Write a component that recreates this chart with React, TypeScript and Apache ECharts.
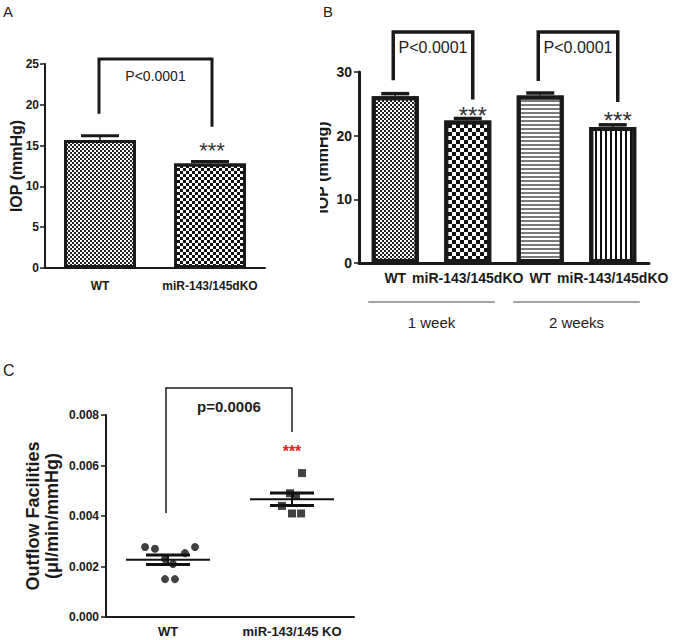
import React, { useEffect, useRef } from "react";
import * as echarts from "echarts";

// ---------- Panel A ----------
const aCategories = ["WT", "miR-143/145dKO"];
const aValues = [15.7, 12.8];
const aErrors = [0.5, 0.25];
const aYTicks = { min: 0, max: 25, step: 5 };
// [fromIndex, toIndex, top, leftLegEnd, rightLegEnd, labelValue]
const aBrackets = [[0, 1, 25.6, 18.9, 17.3, 23.5]];
const aBracketLabels = ["P<0.0001"];
const aStars = [[1, 15.0]];

// ---------- Panel B ----------
const bCategories = ["WT", "miR-143/145dKO", "WT", "miR-143/145dKO"];
const bValues = [26.2, 22.4, 26.3, 21.35];
const bErrors = [0.4, 0.3, 0.4, 0.35];
const bYTicks = { min: 0, max: 30, step: 10 };
const bGroups = ["1 week", "2 weeks"];
const bGroupSpans = [[0, 1], [2, 3]];
const bBrackets = [
  [0, 1, 36.3, 28.7, 25.7, 33.8],
  [2, 3, 36.3, 28.6, 25.3, 33.8],
];
const bBracketLabels = ["P<0.0001", "P<0.0001"];
const bStars = [[1, 24.0], [3, 23.2]];

// ---------- Panel C ----------
const cCategories = ["WT", "miR-143/145 KO"];
const cWT = [0.00277, 0.0027, 0.0023, 0.0021, 0.00253, 0.00277, 0.0015, 0.0015];
const cWTJitter = [-0.185, -0.105, -0.024, 0.04, 0.137, 0.218, -0.024, 0.056];
const cKO = [0.0057, 0.0049, 0.0048, 0.0044, 0.0041, 0.0041];
const cKOJitter = [0.081, -0.016, 0.032, -0.081, 0.0, 0.073];
const cYTicks = { min: 0, max: 0.008, step: 0.002 };
const cBrackets = [[0.5, 1.5, 0.00907, 0.00412, 0.00733, 0.00832]];
const cBracketLabels = ["p=0.0006"];
const cStars = [[1.5, 0.00669]];

const FONT = "'Liberation Sans', Arial, Helvetica, sans-serif";
const INK = "#1a1a1a";

function meanSem(arr: number[]) {
  const n = arr.length;
  const m = arr.reduce((s, v) => s + v, 0) / n;
  const sd = Math.sqrt(arr.reduce((s, v) => s + (v - m) * (v - m), 0) / (n - 1));
  return [m, sd / Math.sqrt(n)];
}

const checker = (c: number, color: string) => ({
  symbol: "rect",
  symbolSize: 1,
  symbolKeepAspect: false,
  dashArrayX: [[c, c], [0, c, c, 0]],
  dashArrayY: [c, 0],
  color,
  backgroundColor: "#fff",
});
const hStripes = {
  symbol: "rect",
  symbolSize: 1,
  symbolKeepAspect: false,
  dashArrayX: [6, 0],
  dashArrayY: [2, 2],
  color: "#7a7a7a",
  backgroundColor: "#fff",
};
const vStripes = {
  symbol: "rect",
  symbolSize: 1,
  symbolKeepAspect: false,
  dashArrayX: [2, 3],
  dashArrayY: [6, 0],
  color: "#111",
  backgroundColor: "#fff",
};
const aDecals = [checker(2, "#222"), checker(3, "#111")];
const bDecals = [checker(2, "#222"), checker(4, "#111"), hStripes, vStripes];

function errorRender(capHalf: number, capWidth: number) {
  return (params: any, api: any) => {
    const x = api.value(0);
    const v = api.value(1);
    const e = api.value(2);
    const p0 = api.coord([x, v]);
    const p1 = api.coord([x, v + e]);
    return {
      type: "group",
      children: [
        { type: "line", shape: { x1: p0[0], y1: p0[1], x2: p1[0], y2: p1[1] }, style: { stroke: INK, lineWidth: 1.5 } },
        { type: "line", shape: { x1: p1[0] - capHalf, y1: p1[1], x2: p1[0] + capHalf, y2: p1[1] }, style: { stroke: INK, lineWidth: capWidth } },
      ],
    };
  };
}

function bracketRender(labels: string[], lineWidth: number, font: string, rightNudge: number, leftNudge: number) {
  return (params: any, api: any) => {
    const x1 = api.value(0), x2 = api.value(1), top = api.value(2);
    const l = api.value(3), r = api.value(4), ty = api.value(5);
    const pTL = api.coord([x1, top]);
    const pL = api.coord([x1, l]);
    const pTR = api.coord([x2, top]);
    const pR = api.coord([x2, r]);
    const pText = api.coord([x1, ty]);
    const xl = pTL[0] + leftNudge;
    const xr = pTR[0] + rightNudge;
    return {
      type: "group",
      children: [
        {
          type: "polyline",
          shape: { points: [[xl, pL[1]], [xl, pTL[1]], [xr, pTR[1]], [xr, pR[1]]] },
          style: { stroke: INK, lineWidth, fill: "none", lineJoin: "miter" },
        },
        {
          type: "text",
          x: (xl + xr) / 2,
          y: pText[1],
          style: { text: labels[params.dataIndex], font, fill: "#222", align: "center", verticalAlign: "middle" },
        },
      ],
    };
  };
}

function starRender(font: string, fontSize: number, color: string, nudge: number) {
  return (params: any, api: any) => {
    const p = api.coord([api.value(0), api.value(1)]);
    return {
      type: "text",
      x: p[0] + nudge,
      y: p[1] + fontSize * 0.22,
      style: { text: "***", font, fill: color, align: "center", verticalAlign: "middle" },
    };
  };
}

function groupRender(halfW: number) {
  return (params: any, api: any) => {
    const a = api.coord([api.value(0), 0]);
    const b = api.coord([api.value(1), 0]);
    const y = a[1] + 39;
    return {
      type: "group",
      children: [
        { type: "line", shape: { x1: a[0] - halfW, y1: y, x2: b[0] + halfW, y2: y }, style: { stroke: "#444", lineWidth: 1 } },
        {
          type: "text",
          x: (a[0] + b[0]) / 2,
          y: y + 20,
          style: { text: bGroups[params.dataIndex], font: `15px ${FONT}`, fill: "#222", align: "center", verticalAlign: "middle" },
        },
      ],
    };
  };
}

function meanSemRender(params: any, api: any) {
  const x = api.value(0), m = api.value(1), s = api.value(2);
  const pm = api.coord([x, m]);
  const pu = api.coord([x, m + s]);
  const pd = api.coord([x, m - s]);
  const line = (x1: number, y1: number, x2: number, y2: number, w: number) => ({
    type: "line",
    shape: { x1, y1, x2, y2 },
    style: { stroke: "#111", lineWidth: w },
  });
  return {
    type: "group",
    children: [
      line(pm[0] - 42, pm[1], pm[0] + 42, pm[1], 2),
      line(pu[0] - 22, pu[1], pu[0] + 22, pu[1], 3),
      line(pd[0] - 22, pd[1], pd[0] + 22, pd[1], 3),
      line(pu[0], pu[1], pd[0], pd[1], 2),
    ],
  };
}

const valueAxis = (gridIndex: number, t: any, lw: number, fs: number, margin: number, name: string, nameGap: number, nameFs: number, formatter?: any, moveOverlap = true) => ({
  gridIndex,
  type: "value",
  min: t.min,
  max: t.max,
  interval: t.step,
  splitLine: { show: false },
  axisLine: { show: true, lineStyle: { color: INK, width: lw } },
  axisTick: { show: true, length: 5, lineStyle: { color: INK, width: 1.5 } },
  axisLabel: { fontFamily: FONT, fontWeight: "bold", fontSize: fs, color: INK, margin, formatter },
  name,
  nameLocation: "middle",
  nameRotate: 90,
  nameGap,
  nameMoveOverlap: moveOverlap,
  nameTextStyle: { fontFamily: FONT, fontWeight: "bold", fontSize: nameFs, color: INK, lineHeight: 19 },
});

const catAxis = (gridIndex: number, data: string[], lw: number, fs: number, margin: number) => ({
  gridIndex,
  type: "category",
  data,
  axisLine: { lineStyle: { color: INK, width: lw } },
  axisTick: { alignWithLabel: true, length: 4, lineStyle: { color: INK, width: 1.5 } },
  axisLabel: { interval: 0, hideOverlap: false, fontFamily: FONT, fontWeight: "bold", fontSize: fs, color: INK, margin },
});

export default function App() {
  const ref = useRef<HTMLDivElement>(null);
  useEffect(() => {
    if (!ref.current) return;
    const chart = echarts.init(ref.current, undefined, { renderer: "svg" });
    const [wtMean, wtSem] = meanSem(cWT);
    const [koMean, koSem] = meanSem(cKO);
    const option: any = {
      animation: false,
      backgroundColor: "#fff",
      grid: [
        { left: 45, top: 64, width: 220, height: 204 },
        { left: 359, top: 72, width: 290, height: 191 },
        { left: 106, top: 415, width: 248, height: 202 },
      ],
      xAxis: [
        catAxis(0, aCategories, 2, 12, 12),
        catAxis(1, bCategories, 3, 14, 8),
        catAxis(2, cCategories, 2, 13, 8),
        { gridIndex: 2, type: "value", min: 0, max: 2, show: false },
      ],
      yAxis: [
        valueAxis(0, aYTicks, 2, 12, 6, "IOP (mmHg)", 19, 16, undefined, false),
        valueAxis(1, bYTicks, 3, 14, 7, "IOP (mmHg)", 27, 16),
        valueAxis(2, cYTicks, 2, 12, 7, "Outflow Facilities\n(μl/min/mmHg)", 45, 18, (v: number) => v.toFixed(3)),
      ],
      graphic: [
        { type: "rect", z: 100, shape: { x: 290, y: 90, width: 30, height: 170 }, style: { fill: "#fff" } },
        { type: "text", x: 3, y: 4, style: { text: "A", font: `15px ${FONT}`, fill: "#222" } },
        { type: "text", x: 323, y: 4, style: { text: "B", font: `15px ${FONT}`, fill: "#222" } },
        { type: "text", x: 3, y: 362, style: { text: "C", font: `16px ${FONT}`, fill: "#222" } },
      ],
      series: [
        {
          type: "bar",
          xAxisIndex: 0,
          yAxisIndex: 0,
          barWidth: 72,
          data: aValues.map((v, i) => ({ value: v, itemStyle: { color: "#fff", borderColor: INK, borderWidth: 3, decal: aDecals[i] } })),
        },
        {
          type: "custom",
          xAxisIndex: 0,
          yAxisIndex: 0,
          z: 5,
          encode: { x: 0, y: 1 },
          renderItem: errorRender(19, 3),
          data: aValues.map((v, i) => [i, v, aErrors[i]]),
        },
        {
          type: "custom",
          xAxisIndex: 0,
          yAxisIndex: 0,
          clip: false,
          encode: { x: 0, y: 2 },
          renderItem: bracketRender(aBracketLabels, 3, `14px ${FONT}`, 2, -1),
          data: aBrackets,
        },
        {
          type: "custom",
          xAxisIndex: 0,
          yAxisIndex: 0,
          encode: { x: 0, y: 1 },
          renderItem: starRender(`22px ${FONT}`, 22, "#333", 2),
          data: aStars,
        },
        {
          type: "bar",
          xAxisIndex: 1,
          yAxisIndex: 1,
          barWidth: 47,
          data: bValues.map((v, i) => ({ value: v, itemStyle: { color: "#fff", borderColor: INK, borderWidth: 4, decal: bDecals[i] } })),
        },
        {
          type: "custom",
          xAxisIndex: 1,
          yAxisIndex: 1,
          z: 5,
          encode: { x: 0, y: 1 },
          renderItem: errorRender(14, 3.5),
          data: bValues.map((v, i) => [i, v, bErrors[i]]),
        },
        {
          type: "custom",
          xAxisIndex: 1,
          yAxisIndex: 1,
          clip: false,
          encode: { x: 0, y: 2 },
          renderItem: bracketRender(bBracketLabels, 3.5, `16px ${FONT}`, 5, -2),
          data: bBrackets,
        },
        {
          type: "custom",
          xAxisIndex: 1,
          yAxisIndex: 1,
          encode: { x: 0, y: 1 },
          renderItem: starRender(`24px ${FONT}`, 24, "#333", 5),
          data: bStars,
        },
        {
          type: "custom",
          xAxisIndex: 1,
          yAxisIndex: 1,
          clip: false,
          encode: { x: 0, y: 1 },
          renderItem: groupRender(27),
          data: bGroupSpans,
        },
        {
          type: "scatter",
          xAxisIndex: 3,
          yAxisIndex: 2,
          symbol: "circle",
          symbolSize: 8,
          itemStyle: { color: "#111" },
          data: cWT.map((v, i) => [0.5 + cWTJitter[i], v]),
        },
        {
          type: "scatter",
          xAxisIndex: 3,
          yAxisIndex: 2,
          symbol: "rect",
          symbolSize: 8,
          itemStyle: { color: "#111" },
          data: cKO.map((v, i) => [1.5 + cKOJitter[i], v]),
        },
        {
          type: "custom",
          xAxisIndex: 3,
          yAxisIndex: 2,
          z: 5,
          encode: { x: 0, y: 1 },
          renderItem: meanSemRender,
          data: [[0.5, wtMean, wtSem], [1.5, koMean, koSem]],
        },
        {
          type: "custom",
          xAxisIndex: 3,
          yAxisIndex: 2,
          clip: false,
          encode: { x: 0, y: 2 },
          renderItem: bracketRender(cBracketLabels, 1.5, `bold 15px ${FONT}`, 0, -2),
          data: cBrackets,
        },
        {
          type: "custom",
          xAxisIndex: 3,
          yAxisIndex: 2,
          encode: { x: 0, y: 1 },
          renderItem: starRender(`bold 16px ${FONT}`, 16, "#e5231d", 0),
          data: cStars,
        },
      ],
    };
    chart.setOption(option);
    return () => chart.dispose();
  }, []);
  return <div ref={ref} style={{ position: "absolute", left: 0, top: 0, width: 675, height: 640 }} />;
}
